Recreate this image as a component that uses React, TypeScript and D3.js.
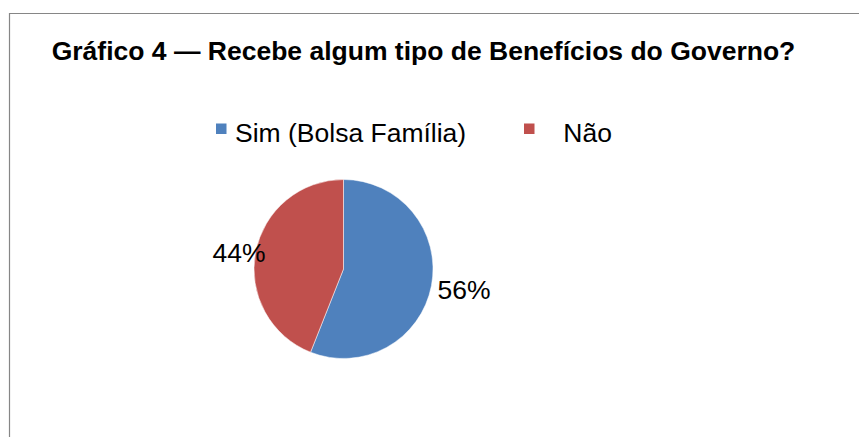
import React from "react";
import * as d3 from "d3";

const title = "Gráfico 4 — Recebe algum tipo de Benefícios do Governo?";
const categories = ["Sim (Bolsa Família)", "Não"];
const values = [56, 44];
const colors = ["#4F81BD", "#C0504D"];

const W = 859;
const H = 437;
const cx = 343.5;
const cy = 269;
const R = 89.5;
const font = "'Liberation Sans', Arial, Helvetica, sans-serif";
// label placement offsets (layout only)
const labelOffsets = [
  { dx: 6, dy: 13.5, anchor: "start" },
  { dx: -43, dy: 10, anchor: "start" },
];
const legendItems = [
  { sq: 216, tx: 235 },
  { sq: 524, tx: 563.3 },
];

export default function App() {
  const pie = d3.pie<number>().sort(null).value((d) => d)(values);
  const arc = d3.arc<d3.PieArcDatum<number>>().innerRadius(0).outerRadius(R);
  const total = d3.sum(values);
  const fmt = d3.format(".0%");

  return (
    <svg
      width={W}
      height={H}
      style={{ position: "absolute", left: 0, top: 0, background: "#fff" }}
    >
      <rect x={0} y={0} width={W} height={H} fill="#fff" />
      <path d={`M9.5,${H} V13.5 H${W}`} fill="none" stroke="#868686" strokeWidth={1.2} />
      <text x={51.7} y={59.5} fontFamily={font} fontWeight="bold" fontSize={26.5} fill="#000">
        {title}
      </text>
      {categories.map((c, i) => (
        <g key={c}>
          <rect x={legendItems[i].sq} y={123.5} width={10.5} height={10.5} fill={colors[i]} />
          <text x={legendItems[i].tx} y={141.7} fontFamily={font} fontSize={26.5} fill="#000">
            {c}
          </text>
        </g>
      ))}
      <g transform={`translate(${cx},${cy})`}>
        {pie.map((p, i) => (
          <path key={i} d={arc(p) || ""} fill={colors[i]} stroke="#fff" strokeWidth={0.5} />
        ))}
        {pie.map((p, i) => {
          const a = (p.startAngle + p.endAngle) / 2;
          const x = R * Math.sin(a) + labelOffsets[i].dx;
          const y = -R * Math.cos(a) + labelOffsets[i].dy;
          return (
            <text
              key={"l" + i}
              x={x}
              y={y}
              textAnchor={labelOffsets[i].anchor as any}
              fontFamily={font}
              fontSize={26.5}
              fill="#000"
            >
              {fmt(p.data / total)}
            </text>
          );
        })}
      </g>
    </svg>
  );
}
